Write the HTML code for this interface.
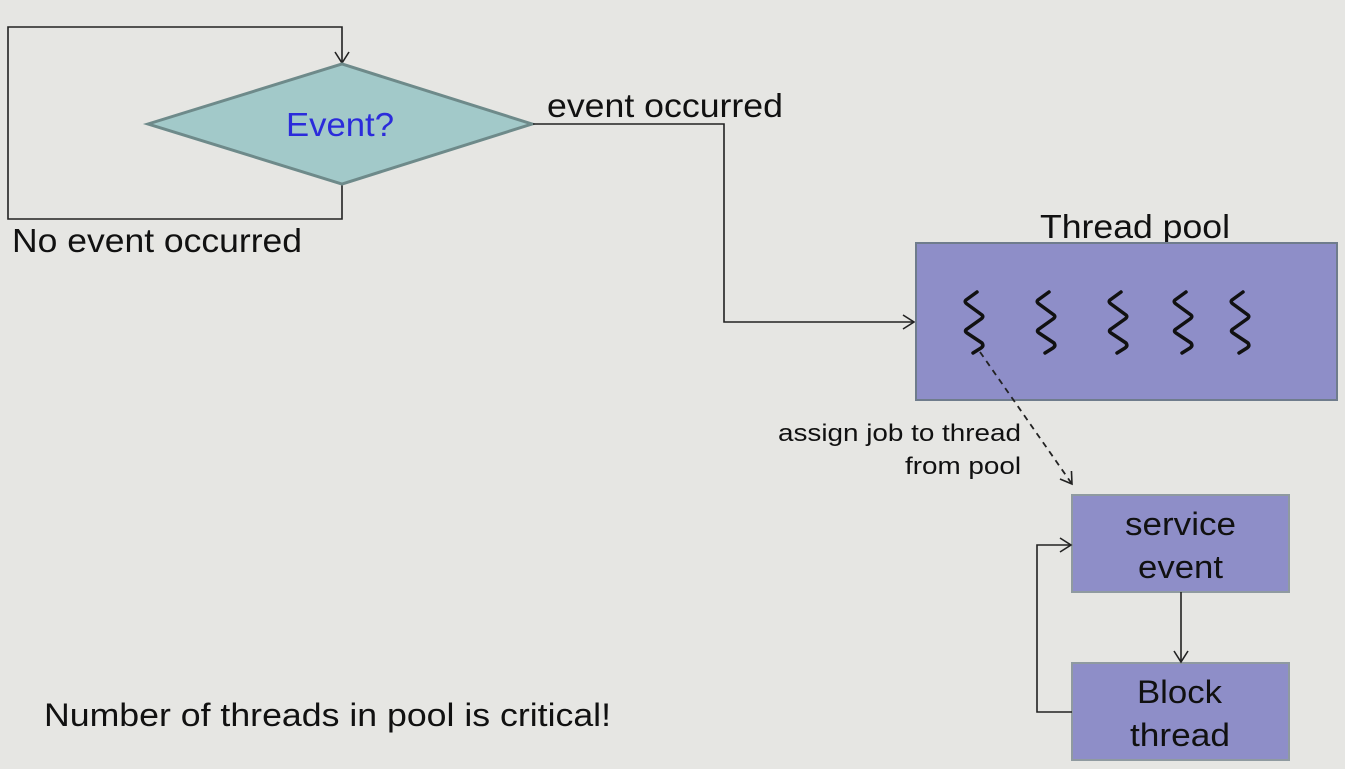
<!DOCTYPE html>
<html><head><meta charset="utf-8"><style>
html,body{margin:0;padding:0;background:#e6e6e3;}
svg{display:block;}
text{font-family:"Liberation Sans",Arial,sans-serif;}
</style></head><body>
<svg width="1345" height="769" viewBox="0 0 1345 769" xmlns="http://www.w3.org/2000/svg">
<defs>
<marker id="a" markerWidth="14" markerHeight="16" refX="12" refY="8" orient="auto" markerUnits="userSpaceOnUse">
<path d="M1,1 L12,8 L1,15" fill="none" stroke="#222" stroke-width="1.6"/>
</marker>
<g id="sq"><path d="M14,1 L3,9 Q1,11 4,13 L19,24 Q21,26 18,28 L4,38 Q1,40 4,42 L19,52 Q21,55 18,57 L10,62" fill="none" stroke="#111" stroke-width="3.5" stroke-linecap="round" stroke-linejoin="round"/></g>
</defs>
<rect width="1345" height="769" fill="#e6e6e3"/>
<polyline points="342,184 342,219 8,219 8,27 342,27 342,63" fill="none" stroke="#222" stroke-width="1.6" marker-end="url(#a)"/>
<polygon points="148,124 342,64 532,124 342,184" fill="#a2c9c9" stroke="#6e8a8a" stroke-width="3"/>
<text x="286" y="136" font-size="33" fill="#2b2bdb" textLength="108" lengthAdjust="spacingAndGlyphs">Event?</text>
<text x="12" y="252" font-size="33" fill="#111" textLength="290" lengthAdjust="spacingAndGlyphs">No event occurred</text>
<text x="547" y="117" font-size="33" fill="#111" textLength="236" lengthAdjust="spacingAndGlyphs">event occurred</text>
<polyline points="533,124 724,124 724,322 914,322" fill="none" stroke="#222" stroke-width="1.6" marker-end="url(#a)"/>
<text x="1040" y="238" font-size="33" fill="#111" textLength="190" lengthAdjust="spacingAndGlyphs">Thread pool</text>
<rect x="916" y="243" width="421" height="157" fill="#8e8ec8" stroke="#6f7c8c" stroke-width="2"/>
<use href="#sq" x="963" y="291"/>
<use href="#sq" x="1035" y="291"/>
<use href="#sq" x="1107" y="291"/>
<use href="#sq" x="1172" y="291"/>
<use href="#sq" x="1229" y="291"/>
<line x1="980" y1="352" x2="1072" y2="484" stroke="#222" stroke-width="1.8" stroke-dasharray="6,5" marker-end="url(#a)"/>
<text x="778" y="441" font-size="24" fill="#111" textLength="243" lengthAdjust="spacingAndGlyphs">assign job to thread</text>
<text x="905" y="474" font-size="24" fill="#111" textLength="116" lengthAdjust="spacingAndGlyphs">from pool</text>
<rect x="1072" y="495" width="217" height="97" fill="#8e8ec8" stroke="#8f9aa0" stroke-width="2"/>
<text x="1125" y="535" font-size="32" fill="#111" textLength="111" lengthAdjust="spacingAndGlyphs">service</text>
<text x="1138" y="578" font-size="32" fill="#111" textLength="85" lengthAdjust="spacingAndGlyphs">event</text>
<rect x="1072" y="663" width="217" height="97" fill="#8e8ec8" stroke="#8f9aa0" stroke-width="2"/>
<text x="1137" y="703" font-size="32" fill="#111" textLength="85" lengthAdjust="spacingAndGlyphs">Block</text>
<text x="1130" y="746" font-size="32" fill="#111" textLength="100" lengthAdjust="spacingAndGlyphs">thread</text>
<line x1="1181" y1="592" x2="1181" y2="662" stroke="#222" stroke-width="1.6" marker-end="url(#a)"/>
<polyline points="1072,712 1037,712 1037,545 1071,545" fill="none" stroke="#222" stroke-width="1.6" marker-end="url(#a)"/>
<text x="44" y="726" font-size="32" fill="#111" textLength="567" lengthAdjust="spacingAndGlyphs">Number of threads in pool is critical!</text>
</svg>
</body></html>
